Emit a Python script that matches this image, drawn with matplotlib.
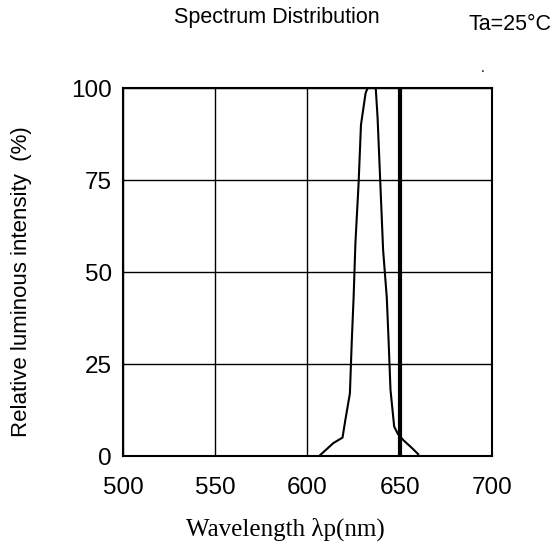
import matplotlib
matplotlib.use('Agg')
import matplotlib.pyplot as plt

# spectrum
wavelength = [607, 614, 619, 620.6, 623, 624, 625, 626, 627.7, 629, 631.5, 632.6, 637,
              638, 639, 640, 641, 643, 644, 645, 647, 649, 652, 657, 660]
intensity = [0.3, 3.5, 5, 10, 17, 31, 43, 58, 74, 90, 98.6, 100, 100,
             92, 80, 68, 56, 43, 31, 18, 8, 6, 4.3, 2, 0.5]
peak_marker = 650
x_ticks = [500, 550, 600, 650, 700]
y_ticks = [0, 25, 50, 75, 100]


def main():
    plt.rcParams['font.family'] = ['Liberation Sans', 'DejaVu Sans']
    fig = plt.figure(figsize=(5.54, 5.45), dpi=100)
    ax = fig.add_axes([0.222, 0.1633, 0.666, 0.6752])

    ax.plot(wavelength, intensity, color='black', linewidth=1.5)
    ax.axvline(peak_marker, color='black', linewidth=3)

    ax.set_xlim(500, 700)
    ax.set_ylim(0, 100)
    ax.set_xticks(x_ticks)
    ax.set_yticks(y_ticks)
    ax.grid(True, color='black', linewidth=1)
    ax.tick_params(length=0, labelsize=17.5)
    ax.tick_params(axis='x', pad=15)
    ax.tick_params(axis='y', pad=8)
    for s in ax.spines.values():
        s.set_linewidth(1.5)

    fig.text(0.5, 0.967, 'Spectrum Distribution', ha='center', va='center', fontsize=15.5)
    fig.text(0.92, 0.955, 'Ta=25°C', ha='center', va='center', fontsize=15.5)
    fig.text(0.872, 0.875, '.', ha='center', va='center', fontsize=10)
    fig.text(0.038, 0.484, 'Relative luminous intensity  (%)', rotation=90,
             ha='center', va='center', fontsize=16)
    fig.text(0.515, 0.029, 'Wavelength λp(nm)', ha='center', va='center',
             fontsize=18, family=['Liberation Serif', 'DejaVu Serif'])

    fig.savefig('out.png', dpi=100)


if __name__ == "__main__":
    main()
